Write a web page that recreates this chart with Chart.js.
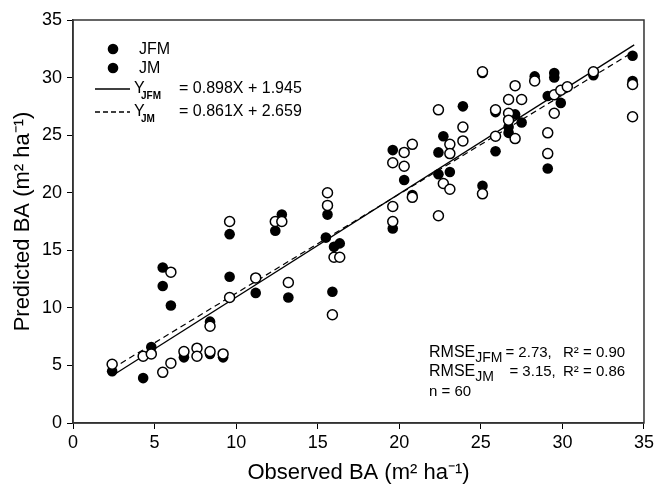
<!DOCTYPE html>
<html>
<head>
<meta charset="utf-8">
<script src="https://cdn.jsdelivr.net/npm/chart.js@4.4.1/dist/chart.umd.min.js"></script>
<style>
  body { margin: 0; background: #fff; }
  #wrap { width: 657px; height: 486px; }
</style>
</head>
<body>
<div id="wrap"><canvas id="baChart" width="657" height="486"></canvas></div>
<script>
const FONT = "'Liberation Sans', Arial, sans-serif";

// JFM model (filled circles)
const jfmObserved = [2.4, 4.3, 4.8, 5.5, 5.5, 6.0, 6.8, 8.4, 8.4, 9.2, 9.6, 9.6, 11.2, 12.4, 12.8, 13.2,
  15.5, 15.6, 16.0, 16.35, 15.9, 19.6, 19.6, 20.3, 20.8, 22.4, 22.4, 22.7, 23.1, 23.9, 25.1, 25.1,
  25.9, 25.9, 26.7, 26.7, 27.1, 27.5, 28.3, 29.1, 29.1, 29.5, 29.5, 29.9, 31.9, 34.3, 34.3];
const jfmPredicted = [4.5, 3.9, 6.6, 13.5, 11.9, 10.2, 5.7, 8.8, 6.0, 5.7, 16.4, 12.7, 11.3, 16.7, 18.1, 10.9,
  16.1, 18.1, 15.3, 15.6, 11.4, 23.7, 16.9, 21.1, 19.8, 23.5, 21.6, 24.9, 21.8, 27.5, 30.4, 20.6,
  27.0, 23.6, 25.7, 25.2, 26.8, 26.1, 30.1, 28.4, 22.1, 30.4, 30.0, 27.8, 30.2, 31.9, 29.7];

// JM model (open circles)
const jmObserved = [2.4, 4.3, 4.8, 5.5, 6.0, 6.0, 6.8, 7.6, 7.6, 8.4, 8.4, 9.2, 9.6, 9.6, 11.2, 12.4,
  12.8, 13.2, 15.6, 15.6, 16.0, 16.35, 15.9, 19.6, 19.6, 19.6, 20.3, 20.3, 20.8, 20.8, 22.4, 22.4,
  22.7, 23.1, 23.1, 23.1, 23.9, 23.9, 25.1, 25.1, 25.9, 25.9, 26.7, 26.7, 26.7, 27.1, 27.5, 27.1,
  28.3, 29.1, 29.1, 29.5, 29.5, 29.9, 30.3, 31.9, 34.3, 34.3];
const jmPredicted = [5.1, 5.8, 6.0, 4.4, 5.2, 13.1, 6.2, 6.5, 5.8, 8.4, 6.2, 6.0, 17.5, 10.9, 12.6, 17.5,
  17.5, 12.2, 20.0, 18.9, 14.4, 14.4, 9.4, 22.6, 18.8, 17.5, 23.5, 22.3, 24.2, 19.6, 27.2, 18.0,
  20.8, 24.2, 23.4, 20.3, 25.7, 24.5, 30.5, 19.9, 27.2, 24.9, 28.1, 26.9, 26.3, 29.3, 28.1, 24.7,
  29.7, 25.2, 23.4, 26.9, 28.5, 28.9, 29.2, 30.5, 29.4, 26.6];

// fitted lines: [slope, intercept], drawn over the observed range
const jfmCoef = [0.898, 1.945];
const jmCoef = [0.861, 2.659];
const fitRange = [2.4, 34.4];

const toPoints = (xs, ys) => xs.map((x, i) => ({ x: x, y: ys[i] }));
const fitLine = coef => fitRange.map(x => ({ x: x, y: coef[0] * x + coef[1] }));

// text with a lowered subscript, returns the x where it ends
function subText(c, main, sub, x, y, size, subSize, drop) {
  c.font = size + "px " + FONT;
  c.fillText(main, x, y);
  x += c.measureText(main).width;
  c.font = subSize + "px " + FONT;
  c.fillText(sub, x, y + drop);
  return x + c.measureText(sub).width;
}

const overlay = {
  id: "overlay",
  afterDraw(chart) {
    const c = chart.ctx;
    const a = chart.chartArea;
    c.save();
    // frame
    c.strokeStyle = "#333";
    c.lineWidth = 1.5;
    c.strokeRect(a.left, a.top, a.right - a.left, a.bottom - a.top);

    c.fillStyle = "#000";
    c.strokeStyle = "#000";
    c.textAlign = "left";
    c.textBaseline = "middle";

    // legend
    [49, 68].forEach(y => {
      c.beginPath();
      c.arc(113, y, 5.3, 0, Math.PI * 2);
      c.fill();
    });
    c.font = "16px " + FONT;
    c.fillText("JFM", 139, 50);
    c.fillText("JM", 139, 69);

    c.lineWidth = 1.3;
    c.beginPath(); c.moveTo(95, 89); c.lineTo(130, 89); c.stroke();
    c.setLineDash([5, 3]);
    c.beginPath(); c.moveTo(95, 112); c.lineTo(130, 112); c.stroke();
    c.setLineDash([]);

    c.fillText("Y", 134, 89);
    c.fillText("Y", 134, 112);
    c.fillText("= 0.898X + 1.945", 179, 89);
    c.fillText("= 0.861X + 2.659", 179, 112);
    c.font = "bold 10px " + FONT;
    c.fillText("JFM", 141, 96);
    c.fillText("JM", 141, 119);

    // stats
    const end1 = subText(c, "RMSE", "JFM", 429, 353, 16, 14, 5);
    c.font = "15px " + FONT;
    c.fillText("= 2.73,", end1 + 3, 353);
    c.fillText("R\u00b2 = 0.90", 563, 353);
    subText(c, "RMSE", "JM", 429, 372, 16, 14, 5);
    c.font = "15px " + FONT;
    c.fillText("= 3.15,", end1 + 7, 372);
    c.fillText("R\u00b2 = 0.86", 563, 372);
    c.fillText("n = 60", 429, 392);
    c.restore();
  }
};

new Chart(document.getElementById("baChart"), {
  type: "scatter",
  data: {
    datasets: [
      {
        label: "JM",
        data: toPoints(jmObserved, jmPredicted),
        pointRadius: 5,
        pointBorderWidth: 1.5,
        pointBackgroundColor: "#fff",
        pointBorderColor: "#000",
        order: 1
      },
      {
        label: "JFM",
        data: toPoints(jfmObserved, jfmPredicted),
        pointRadius: 5.3,
        pointBorderWidth: 0,
        pointBackgroundColor: "#000",
        pointBorderColor: "#000",
        order: 2
      },
      {
        label: "fit JFM",
        data: fitLine(jfmCoef),
        showLine: true,
        pointRadius: 0,
        borderColor: "#000",
        borderWidth: 1.3,
        order: 3
      },
      {
        label: "fit JM",
        data: fitLine(jmCoef),
        showLine: true,
        pointRadius: 0,
        borderColor: "#000",
        borderWidth: 1.2,
        borderDash: [6, 4],
        order: 4
      }
    ]
  },
  options: {
    responsive: false,
    animation: false,
    layout: { padding: { top: 20, right: 9, left: 0, bottom: 0 } },
    plugins: {
      legend: { display: false },
      tooltip: { enabled: false }
    },
    scales: {
      x: {
        type: "linear",
        min: 0,
        max: 35,
        afterFit(scale) { scale.height = 63; },
        ticks: { stepSize: 5, color: "#000", font: { size: 18, family: FONT }, padding: 3 },
        grid: { drawOnChartArea: false, tickLength: 6, color: "#000" },
        border: { color: "#333", width: 1.5 },
        title: {
          display: true,
          text: "Observed BA (m\u00b2 ha\u207b\u00b9)",
          color: "#000",
          font: { size: 22, family: FONT },
          padding: { top: 0, bottom: 0 }
        }
      },
      y: {
        type: "linear",
        min: 0,
        max: 35,
        afterFit(scale) { scale.width = 73; },
        ticks: { stepSize: 5, color: "#000", font: { size: 18, family: FONT }, padding: 5 },
        grid: { drawOnChartArea: false, tickLength: 6, color: "#000" },
        border: { color: "#333", width: 1.5 },
        title: {
          display: true,
          text: "Predicted BA (m\u00b2 ha\u207b\u00b9)",
          color: "#000",
          font: { size: 22, family: FONT },
          padding: { top: 10, bottom: 0 }
        }
      }
    }
  },
  plugins: [overlay]
});
</script>
</body>
</html>
